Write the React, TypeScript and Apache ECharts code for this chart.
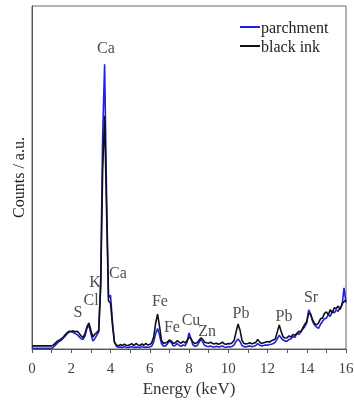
import React, { useEffect, useRef } from "react";
import * as echarts from "echarts";

// Energy grid (keV), 0.1 keV steps
const energies: number[] = Array.from({ length: 161 }, (_, i) => i / 10);

// parchment (blue) counts, a.u.
const parchment: number[] = [
  0.2, 0.2, 0.2, 0.2, 0.2, 0.2, 0.2, 0.2, 0.2, 0.2, 0.2,
  0.6, 1.2, 1.8, 2.2, 2.6, 3.2, 3.8, 4.5, 5.0, 5.2,
  4.8, 4.5, 4.2, 3.6, 3.0, 2.8, 3.8, 6.0, 7.0, 4.5,
  2.3, 3.0, 4.0, 5.0, 20, 62, 83, 45, 15, 15.7,
  8, 2, 0.8, 0.5, 0.6, 0.4, 0.7, 0.5, 0.4, 0.6,
  0.7, 0.4, 0.6, 0.5, 0.4, 0.7, 0.5, 0.6, 0.5, 0.6,
  0.8, 2.0, 4.5, 6.0, 4.0, 1.5, 0.8, 0.9, 1.5, 2.4,
  1.8, 0.9, 1.0, 1.6, 1.0, 0.8, 1.2, 0.9, 2.0, 4.7,
  3.0, 1.2, 0.8, 0.9, 1.8, 2.8, 2.0, 1.0, 0.8, 0.7,
  0.9, 0.6, 0.6, 0.8, 0.6, 0.7, 0.9, 0.6, 0.5, 0.7,
  0.6, 0.8, 1.2, 2.2, 2.9, 2.2, 1.0, 0.7, 0.6, 0.8,
  0.9, 0.7, 0.8, 1.0, 1.6, 1.1, 0.9, 1.0, 1.2, 1.1,
  1.3, 1.4, 1.6, 2.0, 3.0, 4.0, 3.2, 2.6, 2.3, 2.3,
  2.8, 3.0, 3.6, 3.4, 4.7, 4.2, 5.0, 5.8, 6.5, 7.6,
  11.4, 10.2, 8.0, 7.0, 6.4, 6.0, 7.2, 8.0, 8.8, 9.0,
  10.0, 9.5, 11.0, 10.5, 11.4, 11.0, 12.0, 12.8, 17.8, 13.5,
];

// black ink counts, a.u.
const blackInk: number[] = [
  0.9, 0.9, 0.9, 0.9, 0.9, 0.9, 0.9, 0.9, 0.9, 0.9, 0.9,
  1.2, 1.8, 2.3, 2.6, 3.0, 3.5, 4.2, 4.8, 5.2, 5.0,
  5.3, 5.0, 5.2, 4.6, 3.8, 3.3, 4.5, 6.5, 7.6, 5.5,
  3.5, 4.3, 4.8, 5.5, 18, 52, 68, 40, 14, 13.4,
  7, 2, 1.2, 0.9, 1.3, 1.0, 1.4, 1.1, 1.0, 1.3,
  1.5, 1.0, 1.6, 1.2, 1.0, 1.5, 1.1, 1.6, 1.2, 1.3,
  1.8, 3.5, 7.5, 10.2, 6.5, 2.5, 1.6, 1.8, 2.0, 2.6,
  2.3, 1.6, 1.8, 2.4, 2.0, 1.7, 2.2, 1.8, 2.4, 3.5,
  3.0, 2.0, 1.6, 1.8, 2.4, 3.2, 2.8, 2.0, 1.8, 1.7,
  2.0, 1.6, 1.5, 1.7, 1.4, 1.6, 2.0, 1.5, 1.4, 1.6,
  1.5, 1.8, 2.5, 5.0, 7.3, 5.5, 2.5, 1.6, 1.5, 1.6,
  1.8, 1.5, 1.7, 1.9, 2.8, 2.0, 1.6, 1.8, 2.0, 2.2,
  2.0, 2.4, 2.6, 3.0, 5.0, 7.0, 5.0, 3.5, 3.2, 3.3,
  3.8, 3.5, 4.2, 4.0, 4.5, 5.2, 5.0, 6.2, 7.2, 8.0,
  10.5, 10.0, 8.5, 7.5, 7.0, 7.6, 8.8, 9.0, 10.4, 10.8,
  10.0, 11.5, 10.5, 12.0, 11.8, 12.5, 11.5, 13.2, 13.8, 14.3,
];

// element annotations: [energy, counts, label]
const peakLabels: [number, number, string][] = [
  [3.77, 87.8, "Ca"],
  [3.21, 19.8, "K"],
  [4.38, 22.4, "Ca"],
  [2.34, 10.8, "S"],
  [3.01, 14.3, "Cl"],
  [6.52, 14.0, "Fe"],
  [7.13, 6.7, "Fe"],
  [8.1, 8.7, "Cu"],
  [8.92, 5.5, "Zn"],
  [10.65, 10.5, "Pb"],
  [12.84, 9.9, "Pb"],
  [14.22, 15.2, "Sr"],
];

const xTicks = { min: 0, max: 16, interval: 2 };

const FONT = "Liberation Serif";

export default function App() {
  const ref = useRef<HTMLDivElement>(null);
  useEffect(() => {
    if (!ref.current) return;
    const chart = echarts.init(ref.current, undefined, { renderer: "svg" });
    const blueData = energies.map((e, i) => [e, parchment[i]]);
    const blackData = energies.map((e, i) => [e, blackInk[i]]);
    chart.setOption({
      animation: false,
      textStyle: { fontFamily: FONT },
      grid: {
        left: 32,
        right: 8,
        top: 6,
        bottom: 52,
        outerBoundsMode: "none",
        containLabel: false,
        show: true,
        borderColor: "#666",
        borderWidth: 1,
        backgroundColor: "transparent",
      },
      legend: {
        data: ["parchment", "black ink"],
        orient: "vertical",
        left: 240,
        top: 19,
        padding: 0,
        itemGap: 3,
        itemWidth: 20,
        itemHeight: 2,
        icon: "rect",
        textStyle: { fontFamily: FONT, fontSize: 16, color: "#222", padding: [0, 0, 0, -4] },
      },
      xAxis: {
        type: "value",
        min: xTicks.min,
        max: xTicks.max,
        interval: xTicks.interval,
        name: "Energy (keV)",
        nameLocation: "middle",
        nameGap: 30,
        nameTextStyle: { fontFamily: FONT, fontSize: 17, color: "#333" },
        axisLine: { show: true, lineStyle: { color: "#555", width: 1 } },
        axisTick: { show: true, inside: false, length: 4, lineStyle: { color: "#555" } },
        minorTick: { show: true, splitNumber: 2, length: 4, lineStyle: { color: "#555" } },
        axisLabel: { fontFamily: FONT, fontSize: 15, color: "#444", margin: 11 },
        splitLine: { show: false },
      },
      yAxis: {
        type: "value",
        min: 0,
        max: 100,
        name: "Counts / a.u.",
        nameLocation: "middle",
        nameGap: 6,
        nameTextStyle: { fontFamily: FONT, fontSize: 16, color: "#222" },
        axisLine: { show: true, lineStyle: { color: "#555", width: 1 } },
        axisTick: { show: false },
        axisLabel: { show: false },
        splitLine: { show: false },
      },
      series: [
        {
          name: "parchment",
          type: "line",
          data: blueData,
          showSymbol: false,
          symbol: "none",
          lineStyle: { color: "#1f1fe6", width: 1.6 },
          itemStyle: { color: "#1f1fe6" },
          z: 2,
        },
        {
          name: "black ink",
          type: "line",
          data: blackData,
          showSymbol: false,
          symbol: "none",
          lineStyle: { color: "#111", width: 1.6 },
          itemStyle: { color: "#111" },
          z: 3,
        },
        {
          name: "labels",
          type: "scatter",
          data: peakLabels,
          symbolSize: 0,
          silent: true,
          z: 4,
          label: {
            show: true,
            position: "inside",
            formatter: (p: any) => p.data[2],
            fontFamily: FONT,
            fontSize: 16,
            color: "#222",
          },
        },
      ],
    });
    return () => chart.dispose();
  }, []);
  return (
    <div
      ref={ref}
      style={{ position: "fixed", left: 0, top: 0, width: 354, height: 401 }}
    />
  );
}
